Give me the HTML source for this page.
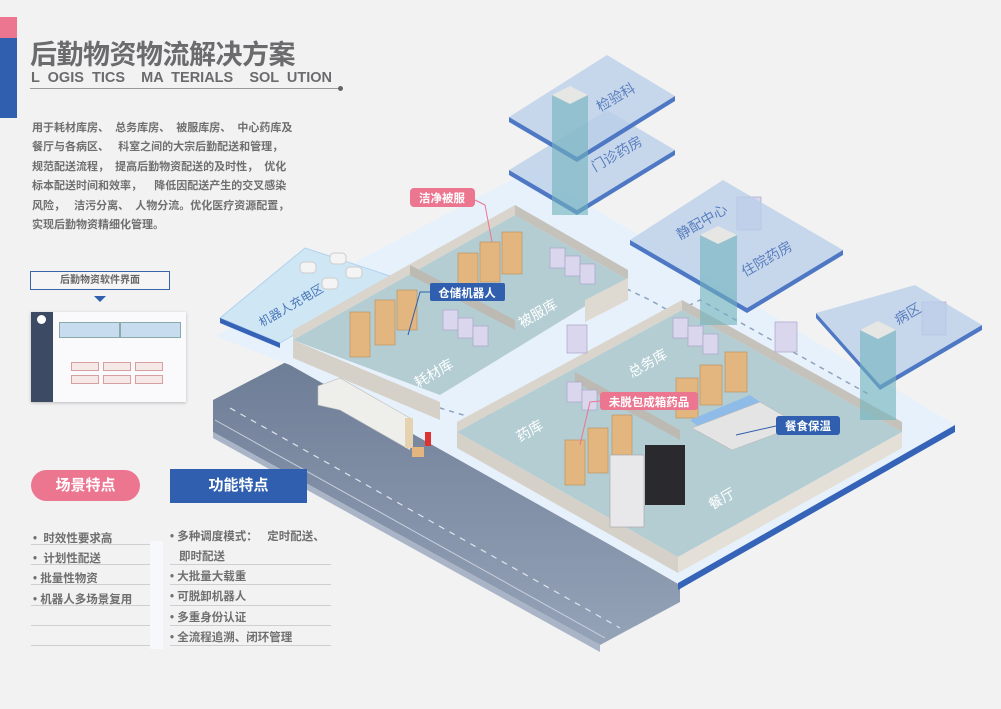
<!DOCTYPE html>
<html><head><meta charset="utf-8">
<style>
body{margin:0;width:1001px;height:709px;overflow:hidden;background:#f2f2f3;font-family:"Liberation Sans","Noto Sans CJK SC",sans-serif;position:relative}
.a{position:absolute}
.para{left:32px;top:119px;width:300px;font-size:11px;line-height:19.4px;color:#6f6f6f;font-weight:bold;white-space:nowrap}
.li{position:absolute;font-size:11.5px;color:#6f6f6f;font-weight:bold}
.ln{position:absolute;height:1px;background:#cfcfd3}
</style></head><body>
<div class="a" style="left:0;top:17px;width:17px;height:21px;background:#ec7590"></div>
<div class="a" style="left:0;top:38px;width:17px;height:80px;background:#2f5fae"></div>
<div class="a" style="left:30px;top:33px;font-size:27px;color:#6b6b6e;font-weight:bold;letter-spacing:-0.5px">后勤物资物流解决方案</div>
<div class="a" style="left:31px;top:70px;font-size:14.5px;color:#6b6b6e;white-space:pre;font-weight:bold">L  OGIS  TICS    MA  TERIALS    SOL  UTION</div>
<div class="a" style="left:30px;top:88px;width:310px;height:1px;background:#999"></div>
<div class="a" style="left:338px;top:86px;width:5px;height:5px;border-radius:50%;background:#666"></div>
<div class="a para">用于耗材库房、&nbsp; 总务库房、&nbsp; 被服库房、&nbsp; 中心药库及<br>餐厅与各病区、&nbsp;&nbsp; 科室之间的大宗后勤配送和管理，<br>规范配送流程，&nbsp; 提高后勤物资配送的及时性，&nbsp; 优化<br>标本配送时间和效率，&nbsp;&nbsp;&nbsp; 降低因配送产生的交叉感染<br>风险，&nbsp;&nbsp; 洁污分离、&nbsp; 人物分流。优化医疗资源配置，<br>实现后勤物资精细化管理。</div>

<div class="a" style="left:30px;top:271px;width:138px;height:17px;border:1.5px solid #3a64aa;font-size:10px;font-weight:bold;color:#666;text-align:center;line-height:17px;background:#f5f5f5">后勤物资软件界面</div>
<div class="a" style="left:94px;top:296px;width:0;height:0;border-left:6px solid transparent;border-right:6px solid transparent;border-top:6px solid #2f5fae"></div>
<div class="a" style="left:31px;top:312px;width:155px;height:90px;background:#fafafc;box-shadow:0 1px 3px #bbb">
 <div class="a" style="left:0;top:0;width:22px;height:90px;background:#3d4a63"></div>
 <div class="a" style="left:6px;top:3px;width:9px;height:9px;border-radius:50%;background:#fff"></div>
 <div class="a" style="left:28px;top:10px;width:59px;height:14px;background:#c8dcf0;border:1px solid #8aa"></div>
 <div class="a" style="left:89px;top:10px;width:59px;height:14px;background:#c8dcf0;border:1px solid #8aa"></div>
 <div class="a" style="left:40px;top:50px;width:26px;height:7px;border:1px solid #d6a0a0;background:#f7e8e8"></div>
 <div class="a" style="left:72px;top:50px;width:26px;height:7px;border:1px solid #d6a0a0;background:#f7e8e8"></div>
 <div class="a" style="left:104px;top:50px;width:26px;height:7px;border:1px solid #d6a0a0;background:#f7e8e8"></div>
 <div class="a" style="left:40px;top:63px;width:26px;height:7px;border:1px solid #d6a0a0;background:#f7e8e8"></div>
 <div class="a" style="left:72px;top:63px;width:26px;height:7px;border:1px solid #d6a0a0;background:#f7e8e8"></div>
 <div class="a" style="left:104px;top:63px;width:26px;height:7px;border:1px solid #d6a0a0;background:#f7e8e8"></div>
</div>

<svg class="a" style="left:0;top:0" width="1001" height="709" viewBox="0 0 1001 709">
<defs><linearGradient id="rd" x1="0" y1="0" x2="0" y2="1"><stop offset="0" stop-color="#6e7d96"/><stop offset="1" stop-color="#95a3b8"/></linearGradient></defs>
<polygon points="213,400 290,360 680,585 680,602 600,645 213,432" fill="url(#rd)"/>
<polygon points="213,432 600,645 600,652 213,438" fill="#a9b4c6"/>
<line x1="230" y1="408" x2="620" y2="628" stroke="#dfe4ec" stroke-width="1.2" stroke-dasharray="6,6"/>
<line x1="215" y1="420" x2="605" y2="638" stroke="#c9d0dc" stroke-width="1"/>
<polygon points="215,336 530,170 955,425 678,583 290,365" fill="#e7f1fb"/>
<polygon points="678,583 955,425 955,432 678,590" fill="#3563b8"/>
<polygon points="220,318 305,248 393,277 280,343" fill="#cfe6f5" stroke="#b0d2ec"/>
<polygon points="220,318 280,343 280,348 220,323" fill="#3563b8"/>
<rect x="300" y="262" width="16" height="11" rx="4" fill="#f4f4f4" stroke="#ccc"/>
<rect x="330" y="253" width="16" height="11" rx="4" fill="#f4f4f4" stroke="#ccc"/>
<rect x="322" y="278" width="16" height="11" rx="4" fill="#f4f4f4" stroke="#ccc"/>
<rect x="346" y="267" width="16" height="11" rx="4" fill="#f4f4f4" stroke="#ccc"/>
<text x="262" y="327" font-size="12" fill="#4b78b8" transform="rotate(-30 262 327)">机器人充电区</text>
<polyline points="545,250 650,300 720,340" fill="none" stroke="#8fa3bd" stroke-width="1.5" stroke-dasharray="5,5"/>
<polyline points="430,405 480,420 560,370 700,300 870,395" fill="none" stroke="#8fa3bd" stroke-width="1.5" stroke-dasharray="5,5"/>
<polygon points="293,340 515,215 628,280 440,395" fill="#b3cdd3"/>
<polygon points="293,340 515,215 515,205 293,330" fill="#d9d5cd"/>
<polygon points="515,205 628,270 628,280 515,215" fill="#c5c2bb"/>
<polygon points="293,340 440,402 440,420 293,358" fill="#d5d1c9"/>
<polygon points="410,265 515,320 515,330 410,275" fill="#bdbab3"/>
<polygon points="585,300 628,278 628,300 585,322" fill="#dedad2"/>
<text x="418" y="388" font-size="14" fill="#fff" transform="rotate(-30 418 388)">耗材库</text>
<text x="522" y="328" font-size="14" fill="#fff" transform="rotate(-30 522 328)">被服库</text>
<polygon points="457,432 682,310 902,432 678,557" fill="#b3cdd3"/>
<polygon points="457,432 682,310 682,300 457,422" fill="#d9d5cd"/>
<polygon points="682,300 902,422 902,432 682,310" fill="#c5c2bb"/>
<polygon points="457,432 678,557 678,573 457,448" fill="#d5d1c9"/>
<polygon points="678,557 902,432 902,448 678,573" fill="#e4e0d8"/>
<polygon points="575,372 680,430 680,440 575,382" fill="#bdbab3"/>
<text x="520" y="442" font-size="14" fill="#fff" transform="rotate(-30 520 442)">药库</text>
<text x="632" y="378" font-size="14" fill="#fff" transform="rotate(-30 632 378)">总务库</text>
<text x="712" y="510" font-size="14" fill="#fff" transform="rotate(-30 712 510)">餐厅</text>
<g fill="#e3b680" stroke="#b98c5a" stroke-width="0.6">
<rect x="350" y="312" width="20" height="45"/><rect x="375" y="300" width="20" height="45"/><rect x="397" y="290" width="20" height="40"/>
<rect x="458" y="253" width="20" height="32"/><rect x="480" y="242" width="20" height="40"/><rect x="502" y="232" width="20" height="42"/>
<rect x="565" y="440" width="20" height="45"/><rect x="588" y="428" width="20" height="45"/><rect x="612" y="415" width="20" height="40"/>
<rect x="676" y="378" width="22" height="40"/><rect x="700" y="365" width="22" height="40"/><rect x="725" y="352" width="22" height="40"/>
</g>
<g fill="#d9d6ee" stroke="#a9a5c8" stroke-width="0.7">
<rect x="443" y="310" width="15" height="20"/><rect x="458" y="318" width="15" height="20"/><rect x="473" y="326" width="15" height="20"/>
<rect x="550" y="248" width="15" height="20"/><rect x="565" y="256" width="15" height="20"/><rect x="580" y="264" width="15" height="20"/>
<rect x="567" y="325" width="20" height="28"/><rect x="775" y="322" width="22" height="30"/>
<rect x="673" y="318" width="15" height="20"/><rect x="688" y="326" width="15" height="20"/><rect x="703" y="334" width="15" height="20"/>
<rect x="567" y="382" width="15" height="20"/><rect x="582" y="390" width="15" height="20"/>
<rect x="737" y="197" width="24" height="33"/><rect x="922" y="302" width="24" height="33"/>
</g>
<polygon points="690,420 750,395 760,402 700,428" fill="#8fbbe8"/>
<polygon points="692,428 760,402 800,425 732,450" fill="#e4e4e4" stroke="#bbb" stroke-width="0.6"/>
<rect x="645" y="445" width="40" height="60" fill="#2a2a2e"/>
<rect x="610" y="455" width="34" height="72" fill="#e8e8ea" stroke="#aaa" stroke-width="0.7"/>
<polygon points="318,386 340,378 410,418 410,450 340,410 318,405" fill="#eeeeea" stroke="#bbb" stroke-width="0.6"/>
<rect x="405" y="418" width="8" height="30" fill="#e5d2b0"/>
<rect x="412" y="447" width="12" height="10" fill="#e3b680"/>
<rect x="425" y="432" width="6" height="14" fill="#d33"/>
<g fill="#b8cde8" fill-opacity="0.75">
<polygon points="509,117 607,55 675,96 577,157"/>
<polygon points="509,170 607,110 675,150 577,210"/>
<polygon points="630,240 723,180 843,250 747,308"/>
<polygon points="816,313 915,285 982,325 880,385"/>
</g>
<g fill="#4e78c4">
<polygon points="509,117 577,157 577,162 509,122"/><polygon points="577,157 675,96 675,101 577,162"/>
<polygon points="509,170 577,210 577,215 509,175"/><polygon points="577,210 675,150 675,155 577,215"/>
<polygon points="630,240 747,308 747,313 630,245"/><polygon points="747,308 843,250 843,255 747,313"/>
<polygon points="816,313 880,385 880,390 816,318"/><polygon points="880,385 982,325 982,330 880,390"/>
</g>
<g fill="#6fb2bd" fill-opacity="0.6">
<rect x="552" y="95" width="36" height="120"/><rect x="700" y="235" width="37" height="90"/><rect x="860" y="330" width="36" height="90"/>
</g>
<g fill="#e6e6e4"><polygon points="552,95 570,86 588,95 570,104"/><polygon points="700,235 718,226 737,235 718,244"/><polygon points="860,330 878,321 896,330 878,339"/></g>
<g font-size="14" fill="#5a7fbf">
<text x="600" y="112" transform="rotate(-30 600 112)">检验科</text>
<text x="595" y="172" transform="rotate(-30 595 172)">门诊药房</text>
<text x="680" y="240" transform="rotate(-30 680 240)">静配中心</text>
<text x="745" y="277" transform="rotate(-30 745 277)">住院药房</text>
<text x="898" y="325" transform="rotate(-30 898 325)">病区</text>
</g>
<polyline points="475,200 485,205 492,242" fill="none" stroke="#ec7590"/>
<rect x="410" y="188" width="65" height="19" rx="4" fill="#ec7590"/>
<text x="442" y="202" font-size="11.5" fill="#fff" font-weight="bold" text-anchor="middle">洁净被服</text>
<polyline points="430,292 420,292 408,335" fill="none" stroke="#2f5fae"/>
<rect x="430" y="283" width="75" height="18" rx="2" fill="#2f5fae"/>
<text x="467" y="297" font-size="11.5" fill="#fff" font-weight="bold" text-anchor="middle">仓储机器人</text>
<polyline points="600,401 590,402 580,445" fill="none" stroke="#ec7590"/>
<rect x="600" y="392" width="98" height="18" rx="3" fill="#ec7590"/>
<text x="649" y="406" font-size="11.5" fill="#fff" font-weight="bold" text-anchor="middle">未脱包成箱药品</text>
<line x1="776" y1="426" x2="736" y2="435" stroke="#2f5fae"/>
<rect x="776" y="416" width="64" height="19" rx="3" fill="#2f5fae"/>
<text x="808" y="430" font-size="11.5" fill="#fff" font-weight="bold" text-anchor="middle">餐食保温</text>
</svg>

<div class="a" style="left:31px;top:470px;width:109px;height:31px;border-radius:16px;background:#ec7590;color:#fff;font-size:15px;font-weight:bold;text-align:center;line-height:31px">场景特点</div>
<div class="a" style="left:170px;top:469px;width:137px;height:34px;background:#2f5fae;color:#fff;font-size:15px;font-weight:bold;text-align:center;line-height:34px">功能特点</div>
<div class="a" style="left:150px;top:541px;width:13px;height:108px;background:#f7f8fb"></div>
<div class="li" style="left:33px;top:530px">•&nbsp; 时效性要求高</div><div class="ln" style="left:31px;top:544px;width:119px"></div>
<div class="li" style="left:33px;top:550px">•&nbsp; 计划性配送</div><div class="ln" style="left:31px;top:564px;width:119px"></div>
<div class="li" style="left:33px;top:570px">• 批量性物资</div><div class="ln" style="left:31px;top:584px;width:119px"></div>
<div class="li" style="left:33px;top:591px">• 机器人多场景复用</div><div class="ln" style="left:31px;top:605px;width:119px"></div>
<div class="ln" style="left:31px;top:625px;width:119px"></div><div class="ln" style="left:31px;top:645px;width:119px"></div>
<div class="li" style="left:170px;top:528px">• 多种调度模式：&nbsp;&nbsp; 定时配送、</div>
<div class="li" style="left:179px;top:548px">即时配送</div><div class="ln" style="left:170px;top:564px;width:161px"></div>
<div class="li" style="left:170px;top:568px">• 大批量大载重</div><div class="ln" style="left:170px;top:584px;width:161px"></div>
<div class="li" style="left:170px;top:588px">• 可脱卸机器人</div><div class="ln" style="left:170px;top:605px;width:161px"></div>
<div class="li" style="left:170px;top:609px">• 多重身份认证</div><div class="ln" style="left:170px;top:625px;width:161px"></div>
<div class="li" style="left:170px;top:629px">• 全流程追溯、闭环管理</div><div class="ln" style="left:170px;top:645px;width:161px"></div>
</body></html>
